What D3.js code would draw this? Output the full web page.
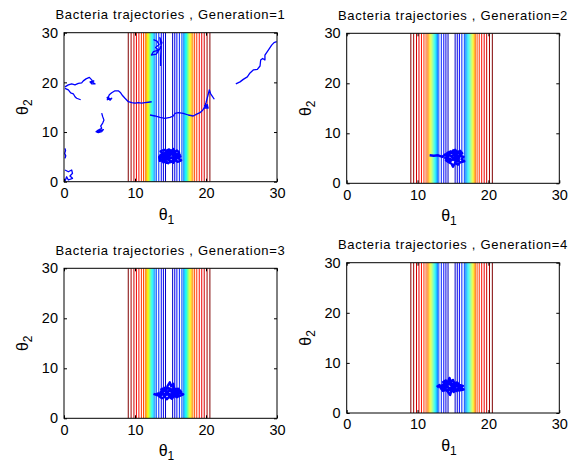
<!DOCTYPE html>
<html>
<head>
<meta charset="utf-8">
<script src="https://cdnjs.cloudflare.com/ajax/libs/d3/7.8.5/d3.min.js"></script>
<style>
  html, body { margin: 0; padding: 0; background: #fff; }
  svg { display: block; }
  text { font-family: "Liberation Sans", Arial, Helvetica, sans-serif; fill: #000; }
</style>
</head>
<body>
<svg id="chart" width="578" height="464"></svg>
<script>
// ---- data ----
const generations = [1, 2, 3, 4];
const xTicks = [0, 10, 20, 30];
const yTicks = [0, 10, 20, 30];

// vertical contour lines of the cost surface (theta1 position, colormap level 0..1)
const contourX = [
  9.05, 9.45, 9.85, 10.2, 10.55, 10.9, 11.2, 11.45, 11.6, 11.75, 11.9, 12.05, 12.2, 12.35, 12.5, 12.65, 12.8, 13.0, 13.35, 13.7, 14.0, 14.3,
  20.55, 20.15, 19.75, 19.4, 19.05, 18.7, 18.4, 18.15, 18.0, 17.85, 17.7, 17.55, 17.4, 17.25, 17.1, 16.95, 16.8, 16.6, 16.25, 15.9, 15.6, 15.3
];
const contourLevel = [
  1.00, 0.96, 0.92, 0.89, 0.86, 0.83, 0.80, 0.76, 0.71, 0.65, 0.59, 0.53, 0.47, 0.41, 0.36, 0.31, 0.26, 0.20, 0.16, 0.13, 0.10, 0.07,
  1.00, 0.96, 0.92, 0.89, 0.86, 0.83, 0.80, 0.76, 0.71, 0.65, 0.59, 0.53, 0.47, 0.41, 0.36, 0.31, 0.26, 0.20, 0.16, 0.13, 0.10, 0.07
];

// generation 1: scattered bacteria
const gen1TrajA = [[0.14,19.1],[0.61,19.5],[1.08,19.7],[1.55,19.5],[2.02,19.8],[2.49,19.9],[2.72,20.3],[3.1,20.7],[3.57,21.0],[3.9,20.5],[4.13,19.9],[4.37,19.7],[3.9,19.7],[3.66,20.1],[4.2,20.3],[3.8,19.9]];
const gen1TrajA2 = [[0.14,18.8],[0.61,18.5],[0.94,17.9],[1.31,17.7],[1.55,17.1],[1.78,16.8],[2.16,16.6],[2.35,16.5]];
const gen1TrajB = [[6.01,16.8],[6.24,17.1],[6.48,16.4],[6.72,16.8],[6.1,16.5],[6.38,17.5],[6.72,17.9],[7.18,18.3],[7.65,18.3],[7.98,17.9],[8.27,17.3],[8.59,16.8],[9.06,16.1],[9.54,15.9],[10.0,15.8],[10.46,15.9],[10.94,15.8],[11.41,15.9],[11.87,16.0],[12.35,16.1]];
const gen1TrajC = [[5.31,13.8],[5.45,13.1],[5.63,12.4],[5.45,11.8],[5.17,11.2],[5.31,10.75],[4.83,10.4],[4.51,10.07],[4.83,9.87],[5.31,10.07],[5.54,10.5],[4.9,10.2],[4.6,9.9]];
const gen1TrajD = [[0.14,6.7],[0.22,6.3],[0.1,5.7],[0.25,5.2],[0.14,4.7]];
const gen1TrajE = [[0.14,2.36],[0.61,2.0],[1.08,2.36],[1.2,1.69],[0.84,1.15],[1.2,0.68],[0.61,0.34],[0.37,1.0],[0.14,0.1]];
const gen1TrajF = [[12.6,28.6],[13.1,28.3],[13.4,27.6],[12.9,27.0],[13.3,26.5],[12.6,26.2],[12.3,25.5],[13.0,25.7],[13.5,26.8],[13.8,28.0],[13.5,29.0],[13.7,27.2],[13.6,25.0],[13.6,23.3]];
const gen1TrajG = [[12.11,13.43],[12.82,13.23],[13.52,12.96],[14.23,12.76],[14.93,12.96],[15.4,13.23],[15.63,13.77],[16.1,13.9],[16.8,13.77],[17.5,13.43],[18.2,13.23],[18.69,13.6],[19.15,13.9],[19.53,14.4],[19.86,15.1],[20.2,15.4],[20.3,14.8],[19.7,14.8],[20.2,15.5],[19.8,15.3],[20.3,14.9],[19.9,15.6],[20.0,15.9],[20.3,17.5],[20.46,18.5],[20.66,17.7],[21.17,16.6]];
const gen1TrajH = [[24.2,19.7],[24.79,20.1],[25.25,20.6],[25.82,21.1],[26.2,21.9],[26.66,22.5],[27.23,22.6],[27.61,23.3],[27.7,24.5],[27.98,24.8],[28.3,24.5],[28.3,25.5],[28.78,26.5],[29.25,27.5],[29.58,28.0],[29.95,28.2]];

// the main cluster near the optimum, one per generation
const gen1Cluster = [[13.3,4.6],[13.7,4.9],[13.6,5.4],[14.0,5.2],[14.2,5.8],[14.5,5.5],[14.4,6.2],[14.8,6.5],[15.1,6.1],[15.4,6.6],[15.6,6.0],[15.9,6.3],[16.2,5.9],[16.0,5.4],[16.4,5.1],[16.1,4.7],[16.5,4.3],[16.0,4.0],[15.7,4.4],[15.4,3.8],[15.0,4.2],[14.7,3.7],[14.4,4.1],[14.0,3.9],[13.8,4.4],[14.2,4.7],[14.6,4.5],[14.9,5.0],[15.3,4.7],[15.6,5.1],[15.2,5.5],[14.8,5.3],[14.5,5.0],[14.1,4.5],[13.5,4.2],[13.4,5.0],[13.9,5.7],[13.6,6.1],[14.1,6.4],[14.6,6.0],[15.0,5.7],[15.5,5.6],[15.8,5.0],[15.5,4.4],[15.1,4.9],[14.7,4.4],[14.3,4.9],[14.8,5.8],[15.3,6.2],[15.7,5.6],[16.3,5.5],[15.9,4.8],[15.4,4.2],[14.9,3.9],[14.4,3.8],[14.2,4.3],[13.9,4.9],[14.3,5.4],[14.9,6.2],[15.6,6.5]];
const gen2Cluster = [[11.7,5.6],[12.3,5.5],[12.9,5.6],[13.5,5.3],[13.9,5.8],[14.3,5.4],[14.2,6.1],[14.7,6.4],[15.0,6.0],[15.3,6.7],[15.6,6.2],[16.0,6.5],[16.3,6.0],[15.9,5.6],[16.5,5.3],[16.2,4.8],[16.6,4.4],[16.0,4.2],[15.7,3.7],[15.3,4.1],[15.0,3.3],[14.8,3.9],[14.4,4.2],[14.0,4.6],[14.4,5.0],[14.8,4.7],[15.2,5.2],[15.6,4.8],[15.9,5.2],[15.5,5.6],[15.1,5.7],[14.7,5.4],[14.3,5.7],[14.6,6.0],[15.1,6.3],[15.5,5.9],[15.8,4.5],[15.4,4.4],[15.0,4.8],[14.6,4.4],[14.2,4.9],[13.9,5.1],[14.5,5.6],[15.0,5.1],[15.7,5.4],[16.1,5.8],[15.3,6.4],[14.9,6.7]];
const gen3Cluster = [[12.8,4.7],[13.3,5.0],[13.6,4.6],[13.9,5.3],[13.7,5.8],[14.2,6.1],[14.4,5.6],[14.6,6.5],[14.9,7.2],[15.1,6.4],[15.4,6.9],[15.5,6.0],[15.9,5.7],[16.2,5.2],[16.8,4.8],[16.3,4.5],[15.9,4.2],[15.5,4.5],[15.2,3.9],[14.8,4.3],[14.5,3.8],[14.2,4.3],[13.8,4.0],[13.4,4.4],[13.9,4.8],[14.3,4.6],[14.7,5.0],[15.1,4.7],[15.6,5.0],[16.0,4.8],[15.7,5.4],[15.2,5.2],[14.9,5.6],[14.5,5.2],[14.1,5.5],[13.6,5.2],[14.0,5.9],[14.8,6.0],[15.3,5.7],[16.1,5.9],[16.5,5.3],[15.8,4.6],[15.0,4.4],[14.4,4.9],[13.2,4.6],[12.6,4.9]];
const gen4Cluster = [[12.7,5.2],[13.1,5.6],[13.4,5.1],[13.8,5.7],[13.6,6.2],[14.0,6.5],[14.2,5.9],[14.5,7.0],[14.7,6.2],[15.0,6.6],[15.2,5.9],[15.6,6.1],[15.9,5.6],[16.4,5.4],[16.0,5.0],[16.5,4.7],[15.8,4.5],[15.4,4.8],[15.1,4.2],[14.8,4.6],[14.6,3.6],[14.3,4.2],[14.0,4.6],[13.6,4.4],[13.3,4.9],[13.8,5.0],[14.2,5.3],[14.5,4.9],[14.9,5.3],[15.3,5.1],[15.6,5.5],[15.1,5.7],[14.7,5.6],[14.3,5.8],[13.9,5.4],[13.5,5.6],[14.1,6.1],[14.8,5.9],[15.4,5.4],[15.9,5.2],[15.5,4.4],[14.9,4.9],[14.4,4.5],[13.9,4.9],[13.2,5.4],[12.9,5.1]];

const trajectories = {
  1: [gen1TrajA, gen1TrajA2, gen1TrajB, gen1TrajC, gen1TrajD, gen1TrajE, gen1TrajF, gen1TrajG, gen1TrajH],
  2: [],
  3: [],
  4: []
};
const clusters = { 1: gen1Cluster, 2: gen2Cluster, 3: gen3Cluster, 4: gen4Cluster };

// ---- layout ----
const panels = [
  { left: 64,    right: 277,   top: 32.7,  bottom: 181.7 },
  { left: 346.7, right: 559.3, top: 33.3,  bottom: 183.3 },
  { left: 64,    right: 277,   top: 268.3, bottom: 418.3 },
  { left: 346.7, right: 559.3, top: 262.7, bottom: 413 }
];

// MATLAB style jet colormap
function jet(t) {
  const c = v => Math.round(255 * Math.max(0, Math.min(1, v)));
  return d3.rgb(c(1.5 - Math.abs(4 * t - 3)), c(1.5 - Math.abs(4 * t - 2)), c(1.5 - Math.abs(4 * t - 1))).toString();
}

const svg = d3.select('#chart');
svg.append('rect').attr('width', 578).attr('height', 464).attr('fill', '#fff');

generations.forEach((gen, i) => {
  const p = panels[i];
  const x = d3.scaleLinear().domain([0, 30]).range([p.left, p.right]);
  const y = d3.scaleLinear().domain([0, 30]).range([p.bottom, p.top]);
  const g = svg.append('g');

  const clipId = 'clip' + gen;
  svg.append('clipPath').attr('id', clipId)
    .append('rect')
    .attr('x', p.left).attr('y', p.top)
    .attr('width', p.right - p.left).attr('height', p.bottom - p.top);

  const plot = g.append('g').attr('clip-path', 'url(#' + clipId + ')');

  // contour lines
  plot.selectAll('line.contour')
    .data(contourX.map((v, k) => ({ x: v, level: contourLevel[k] })))
    .enter().append('line')
    .attr('class', 'contour')
    .attr('x1', d => x(d.x)).attr('x2', d => x(d.x))
    .attr('y1', y(0)).attr('y2', y(30))
    .attr('stroke', d => jet(d.level))
    .attr('stroke-width', 1);

  // bacteria paths
  const line = d3.line().x(d => x(d[0])).y(d => y(d[1]));
  plot.selectAll('path.traj')
    .data(trajectories[gen])
    .enter().append('path')
    .attr('class', 'traj')
    .attr('d', line)
    .attr('fill', 'none')
    .attr('stroke', '#0000ff')
    .attr('stroke-width', 1.3)
    .attr('stroke-linejoin', 'round');

  plot.append('path')
    .attr('class', 'cluster')
    .attr('d', line(clusters[gen]))
    .attr('fill', 'none')
    .attr('stroke', '#0000ff')
    .attr('stroke-width', 2.4)
    .attr('stroke-linejoin', 'round');

  // box + ticks on all sides
  const axes = [
    { axis: d3.axisBottom(x).tickValues(xTicks), tr: [0, p.bottom], labels: true },
    { axis: d3.axisTop(x).tickValues(xTicks), tr: [0, p.top], labels: false },
    { axis: d3.axisLeft(y).tickValues(yTicks), tr: [p.left, 0], labels: true },
    { axis: d3.axisRight(y).tickValues(yTicks), tr: [p.right, 0], labels: false }
  ];
  axes.forEach(a => {
    const ag = g.append('g')
      .attr('transform', 'translate(' + a.tr + ')')
      .call(a.axis.tickSizeInner(-3).tickSizeOuter(0).tickPadding(a.labels ? 6 : 0).tickFormat(d3.format('d')));
    ag.select('.domain').remove();
    ag.selectAll('line').attr('stroke', '#000');
    ag.selectAll('text')
      .attr('font-size', 14.5)
      .style('font-family', '"Liberation Sans", Arial, sans-serif')
      .attr('fill', '#111')
      .attr('display', a.labels ? null : 'none');
  });

  g.append('rect')
    .attr('x', p.left).attr('y', p.top)
    .attr('width', p.right - p.left).attr('height', p.bottom - p.top)
    .attr('fill', 'none').attr('stroke', '#000').attr('stroke-width', 1);

  // title
  g.append('text')
    .attr('x', (p.left + p.right) / 2)
    .attr('y', p.top - 13.5)
    .attr('text-anchor', 'middle')
    .attr('font-size', 13)
    .attr('letter-spacing', 0.7)
    .text('Bacteria trajectories , Generation=' + gen);

  // axis labels
  const xl = g.append('text')
    .attr('x', (p.left + p.right) / 2 - 4)
    .attr('y', p.bottom + 38)
    .attr('text-anchor', 'middle')
    .attr('font-size', 16);
  xl.append('tspan').text('θ');
  xl.append('tspan').attr('font-size', 12).attr('dy', 4).text('1');

  const yl = g.append('text')
    .attr('transform', 'translate(' + (p.left - 36) + ',' + ((p.top + p.bottom) / 2) + ') rotate(-90)')
    .attr('text-anchor', 'middle')
    .attr('font-size', 16);
  yl.append('tspan').text('θ');
  yl.append('tspan').attr('font-size', 12).attr('dy', 4).text('2');
});
</script>
</body>
</html>
